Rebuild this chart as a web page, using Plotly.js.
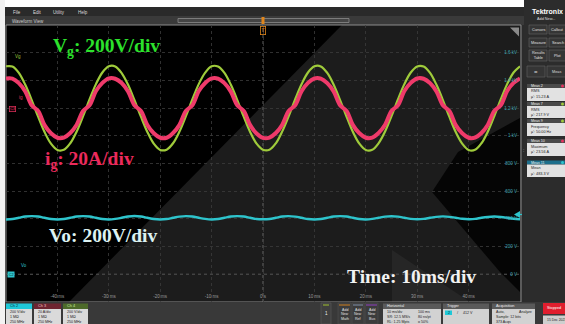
<!DOCTYPE html>
<html><head><meta charset="utf-8">
<script src="https://cdn.plot.ly/plotly-3.0.1.min.js"></script>
<style>html,body{margin:0;padding:0;background:#fff;overflow:hidden}#chart{width:565px;height:324px}</style>
</head><body><div id="chart"></div>
<script>
// ---- data ----
const time_ms = [-50,-48.75,-47.5,-46.25,-45,-43.75,-42.5,-41.25,-40,-38.75,-37.5,-36.25,-35,-33.75,-32.5,-31.25,-30,-28.75,-27.5,-26.25,-25,-23.75,-22.5,-21.25,-20,-18.75,-17.5,-16.25,-15,-13.75,-12.5,-11.25,-10,-8.75,-7.5,-6.25,-5,-3.75,-2.5,-1.25,0,1.25,2.5,3.75,5,6.25,7.5,8.75,10,11.25,12.5,13.75,15,16.25,17.5,18.75,20,21.25,22.5,23.75,25,26.25,27.5,28.75,30,31.25,32.5,33.75,35,36.25,37.5,38.75,40,41.25,42.5,43.75,45,46.25,47.5,48.75,50];
const vg_volts = [302,300,254,168,58,-62,-173,-257,-302,-301,-254,-169,-58,62,173,257,
                  302,301,253,169,57,-62,-172,-257,-302,-300,-254,-169,-58,62,173,256,
                  302,300,254,168,58,-62,-173,-257,-301,-301,-254,-168,-58,62,172,257,
                  302,301,254,169,58,-61,-173,-257,-302,-301,-253,-169,-58,62,173,257,
                  301,300,254,168,58,-62,-173,-256,-302,-301,-254,-169,-57,62,173,257,302];
const ig_amps = [21.4,21.3,18.0,12.0,2.0,-2.0,-12.3,-18.2,-21.4,-21.3,-18.0,-12.0,-2.0,2.0,12.3,18.2,
                 21.5,21.2,18.1,12.0,2.0,-2.0,-12.2,-18.2,-21.4,-21.4,-18.0,-12.1,-2.0,2.0,12.3,18.1,
                 21.4,21.3,18.0,11.9,2.0,-2.0,-12.3,-18.3,-21.5,-21.3,-18.0,-12.0,-2.0,2.0,12.2,18.2,
                 21.4,21.3,18.0,12.0,2.0,-2.0,-12.3,-18.2,-21.4,-21.3,-17.9,-12.0,-2.0,2.0,12.3,18.2,
                 21.4,21.2,18.0,12.0,2.0,-2.0,-12.3,-18.2,-21.4,-21.3,-18.0,-12.0,-2.0,2.0,12.3,18.2,21.4];
const vo_volts = [396,399,408,417,420,417,408,399, 396,399,408,417,420,417,408,399,
                  396,400,408,417,421,417,408,399, 396,399,408,416,420,417,408,400,
                  396,399,408,417,420,417,408,399, 397,399,408,417,420,416,408,399,
                  396,399,408,417,420,417,408,399, 396,400,408,416,419,416,408,400,
                  397,400,408,415,418,415,408,401, 398,400,408,414,417,414,408,401, 398];
const time_ticks = [-40,-30,-20,-10,0,10,20,30,40];
const time_tick_labels = ['-40 ms','-30 ms','-20 ms','-10 ms','0 s','10 ms','20 ms','30 ms','40 ms'];
const volt_ticks = [0,200,400,600,800,1000,1200,1400,1600];
const volt_tick_labels = ['0 V','200 V','400 V','600 V','800 V','1 kV','1.2 kV','1.4 kV','1.6 kV'];
const meas_names = ['Meas 2','Meas 7','Meas 9','Meas 10','Meas 11'];
const meas_types = ['RMS','RMS','Frequency','Maximum','Mean'];
const meas_values = ["\u03bc': 15.23 A","\u03bc': 217.9 V","\u03bc': 50.00 Hz","\u03bc': 23.56 A","\u03bc': 483.3 V"];
const channel_names = ['Ch 2','Ch 3','Ch 4'];
const channel_scales = ['200 V/div','20 A/div','200 V/div'];

// ---- pixel helpers (layout only) ----
const L=6, R=520, T=25, B=302;
const X = p => (p-L)/(R-L);
const Y = p => (B-p)/(B-T);
const shapes = [];
const ann = [];
function rect(x0,y0,x1,y1,fill,line,lw){
  shapes.push({type:'rect',xref:'paper',yref:'paper',layer:'below',x0:X(x0),x1:X(x1),y0:Y(y1),y1:Y(y0),
    fillcolor:fill||'rgba(0,0,0,0)',line:{color:line||'rgba(0,0,0,0)',width:line?(lw||0.8):0}});
}
function poly(pts,fill,layer){
  let d='M '+pts.map(p=>X(p[0]).toFixed(5)+' '+Y(p[1]).toFixed(5)).join(' L ')+' Z';
  shapes.push({type:'path',xref:'paper',yref:'paper',layer:layer||'below',path:d,fillcolor:fill,line:{width:0}});
}
function hline(x0,x1,y,color,w,dash){
  shapes.push({type:'line',xref:'paper',yref:'paper',layer:'below',x0:X(x0),x1:X(x1),y0:Y(y),y1:Y(y),line:{color:color,width:w||1,dash:dash||'solid'}});
}
function txt(x,y,t,size,color,anchor,extra){
  ann.push(Object.assign({xref:'paper',yref:'paper',x:X(x),y:Y(y),text:t,showarrow:false,
    xanchor:anchor||'left',yanchor:'middle',font:{size:size,color:color,family:'Liberation Sans, Arial, sans-serif'}},extra||{}));
}

// window chrome
rect(0,0,565,324,'#2b2b2b');
rect(0,0,524,7,'#ffffff');
rect(0,0,5,324,'#f2f2f2');
rect(5,7,524,16,'#2a2a2a');
rect(5,16,524,25,'#3a3a3a');
rect(178,18.5,349,22.5,'#454545','#8a8a8a',0.8);
// plot background with wallpaper diagonals
rect(6,25,520,302,'#000000');
poly([[342,25],[520,25],[520,302],[69,302]],'#1c1c1c');
poly([[458,152],[432,192],[500,272],[520,292],[520,118]],'#050505');
poly([[392,250],[470,302],[392,302]],'#262626');
rect(6,25,521,302,null,'#8c8c8c',1);
// top-right triangle icon
poly([[510,27.5],[519,27.5],[519,36.5]],'#8a8a8a','above');
// trigger marker
rect(261.5,17,264.5,24,'#e0861c');
// right panel
rect(524,0,565,302,'#2c2c2c');
rect(5,302,565,324,'#393939');

// menu text
txt(11,12,'File',4.5,'#dddddd');
txt(31,12,'Edit',4.5,'#dddddd');
txt(51,12,'Utility',4.5,'#dddddd');
txt(76,12,'Help',4.5,'#dddddd');
txt(10,21,'Waveform View',4.5,'#cfcfcf');

// Tektronix panel
txt(530,11.5,'<b>Tektronix</b>',7,'#ffffff');
txt(546,19.5,'Add New...',3.8,'#dddddd','center');
const btns=[['Cursors',529,547,25,34],['Callout',549,566,25,34],['Measure',529,547,38,47],['Search',549,566,38,47],['Results<br>Table',529,547,50,61],['Plot',549,566,50,61]];
btns.forEach(b=>{rect(b[1],b[3],b[2],b[4],'#353535','#5c5c5c',0.7);txt((b[1]+b[2])/2,(b[3]+b[4])/2,b[0],3.8,'#e0e0e0','center');});
rect(527,66,545,77,'#353535','#5c5c5c',0.7);
rect(547,66,566,77,'#353535','#5c5c5c',0.7);
txt(536,71.5,'=',6,'#dddddd','center');
txt(556,71.5,'Meas',3.8,'#dddddd','center');
const mh=[[84,88,101],[102,106,118],[119,123,136],[139,143,156],[160.5,164.5,177]];
const mdot=['#e8325f','#9fcb3b','#9fcb3b','#e8325f','#2ec4cc'];
meas_names.forEach((n,i)=>{
  const h=mh[i];
  rect(527,h[0],566,h[1],i===4?'#1d6f8c':'#4a4a4a');
  rect(527,h[1],566,h[2],'#e2e2e2');
  txt(529,(h[0]+h[1])/2,n,3.6,'#f0f0f0');
  shapes.push({type:'circle',xref:'paper',yref:'paper',layer:'below',x0:X(561),x1:X(564),y0:Y(h[1]-0.5),y1:Y(h[0]+0.5),fillcolor:mdot[i],line:{width:0}});
  txt(529,h[1]+3.5,meas_types[i],3.8,'#222222');
  txt(529,h[1]+9,meas_values[i],3.8,'#222222');
});
txt(523.5,150,':',5,'#bbbbbb','center');

// bottom channel boxes
const chx=[[6,32],[34,61],[63,88]];
const chHead=['#1ec8d8','#6e2430','#4d6a2a'];
const chHeadTxt=['#0b2f33','#f0c0c8','#c8e8a0'];
channel_names.forEach((c,i)=>{
  rect(chx[i][0],303.5,chx[i][1],309,chHead[i]);
  rect(chx[i][0],309,chx[i][1],324,'#dadada');
  txt(chx[i][0]+2,306.3,c,3.8,chHeadTxt[i]);
  txt(chx[i][0]+2,312,channel_scales[i],3.6,'#222');
  txt(chx[i][0]+2,316.8,'1 M\u03a9',3.6,'#222');
  txt(chx[i][0]+2,321.5,'250 MHz',3.6,'#222');
});
rect(321,303,331,324,'#3f3f3f','#5a5a5a',0.6);
hline(323,329,305,'#a0c030',1);
txt(326,313,'1',4.5,'#eeeeee','center');
const addn=[['Math',338,351,'#d08020'],['Ref',352,364,'#8090a8'],['Bus',365,378,'#9040c0']];
addn.forEach(a=>{
  rect(a[1],303,a[2],324,'#3c3c3c','#555',0.5);
  hline(a[1]+1,a[2]-1,305,a[3],1);
  txt((a[1]+a[2])/2,309.5,'Add',3.6,'#e0e0e0','center');
  txt((a[1]+a[2])/2,314,'New',3.6,'#e0e0e0','center');
  txt((a[1]+a[2])/2,318.5,a[0],3.6,'#e0e0e0','center');
});
rect(383,303.5,441,309,'#5a5a5a'); rect(383,309,441,324,'#d2d2d2');
txt(385,306.3,'Horizontal',3.8,'#eeeeee');
txt(385,312,'10 ms/div',3.6,'#222'); txt(416,312,'100 ms',3.6,'#222');
txt(385,316.8,'SR: 12.5 MS/s',3.6,'#222'); txt(416,316.8,'80 ns/pt',3.6,'#222');
txt(385,321.5,'RL: 1.25 Mpts',3.6,'#222'); txt(416,321.5,'o 50%',3.6,'#222');
rect(443,303.5,489,309,'#5a5a5a'); rect(443,309,489,324,'#d2d2d2');
txt(445,306.3,'Trigger',3.8,'#eeeeee');
rect(445,310.5,452,315,'#1ec8d8'); txt(448.5,312.8,'2',3.6,'#0b2f33','center');
txt(455,312.8,'/',4,'#333'); txt(461,312.8,'412 V',3.6,'#222');
rect(492,303.5,535,309,'#5a5a5a'); rect(492,309,535,324,'#d2d2d2');
txt(494,306.3,'Acquisition',3.8,'#eeeeee');
txt(494,312,'Auto,',3.6,'#222'); txt(517,312,'Analyze',3.6,'#222');
txt(494,316.8,'Sample: 12 bits',3.6,'#222');
txt(494,321.5,'373 Acqs',3.6,'#222');
rect(543,303,566,314,'#e01e2e');
txt(554,308.5,'Stopped',3.8,'#ffffff','center');
rect(543,315.5,566,324,'#cfcfcf');
txt(545,319.5,'15 Dec 2021',3.4,'#222');

// cursor lines
shapes.push({type:'line',xref:'x',yref:'paper',layer:'below',x0:0,x1:0,y0:0,y1:1,line:{color:'#7a7a7a',width:0.8,dash:'dot'}});
shapes.push({type:'line',xref:'paper',yref:'y',layer:'below',x0:0,x1:1,y0:0,y1:0,line:{color:'#8a8a8a',width:0.8,dash:'dot'}});
// right-edge Vo arrow
poly([[514,214.5],[520,211],[520,218]],'#2ec4cc','above');
hline(519,522,214.5,'#2ec4cc',1.2);

// channel markers / labels
txt(12,109,'C3',3.8,'#e8325f','center',{bordercolor:'#e8325f',borderwidth:0.7,borderpad:0.5,bgcolor:'#1a0008'});
txt(11,274.5,'C2',3.8,'#06282c','center',{bgcolor:'#2ec4cc',borderpad:0.7});
txt(13,57,'Vg',4.5,'#9fcb3b');
txt(17,97,'ig',4.5,'#e8325f');
txt(19,265,'Vo',4.5,'#2ec4cc');
txt(263,30,'T',5,'#e0861c','center',{bordercolor:'#e0861c',borderwidth:0.8,borderpad:0.6});

// big overlay labels
const big = {family:'Liberation Serif, Times New Roman, serif',size:19.5};
ann.push({xref:'paper',yref:'paper',x:X(106),y:Y(47),text:'<b>V<sub>g</sub>: 200V/div</b>',showarrow:false,xanchor:'center',yanchor:'middle',font:Object.assign({color:'#2ce22c'},big)});
ann.push({xref:'paper',yref:'paper',x:X(89),y:Y(160),text:'<b>i<sub>g</sub>: 20A/div</b>',showarrow:false,xanchor:'center',yanchor:'middle',font:Object.assign({color:'#ec2a5c'},big)});
ann.push({xref:'paper',yref:'paper',x:X(103),y:Y(236),text:'<b>Vo: 200V/div</b>',showarrow:false,xanchor:'center',yanchor:'middle',font:Object.assign({color:'#dcf2f2'},big)});
ann.push({xref:'paper',yref:'paper',x:X(411),y:Y(276),text:'<b>Time: 10ms/div</b>',showarrow:false,xanchor:'center',yanchor:'middle',font:Object.assign({color:'#f2f2f2'},big)});

const traces = [
  {x:time_ms,y:vo_volts,mode:'lines',line:{color:'#2ec4cc',width:2.4,shape:'spline'},yaxis:'y',hoverinfo:'skip'},
  {x:time_ms,y:vg_volts,mode:'lines',line:{color:'#9fcb3b',width:2.2,shape:'spline'},yaxis:'y2',hoverinfo:'skip'},
  {x:time_ms,y:ig_amps,mode:'lines',line:{color:'#ef3a6a',width:4,shape:'spline'},yaxis:'y3',hoverinfo:'skip'}
];
const layout = {
  width:565,height:324,margin:{l:L,r:565-R,t:T,b:324-B,pad:0},
  paper_bgcolor:'#2b2b2b',plot_bgcolor:'rgba(0,0,0,0)',showlegend:false,
  xaxis:{range:[-50,50],tickvals:time_ticks,ticktext:time_tick_labels,ticklabelposition:'inside',ticks:'',
    tickfont:{size:4.5,color:'#9a9a9a',family:'Liberation Sans, Arial, sans-serif'},showgrid:true,gridcolor:'#3c3c3c',griddash:'dot',gridwidth:0.8,
    zeroline:false,showline:false,fixedrange:true},
  yaxis:{range:[-200,1800],side:'right',tickvals:volt_ticks,ticktext:volt_tick_labels,ticklabelposition:'inside',ticks:'',
    tickfont:{size:4.5,color:'#3fa6b4',family:'Liberation Sans, Arial, sans-serif'},showgrid:true,gridcolor:'#3c3c3c',griddash:'dot',gridwidth:0.8,
    zeroline:false,showline:false,fixedrange:true},
  yaxis2:{range:[-1400,600],overlaying:'y',visible:false,fixedrange:true},
  yaxis3:{range:[-140,60],overlaying:'y',visible:false,fixedrange:true},
  shapes:shapes,annotations:ann
};
Plotly.newPlot('chart',traces,layout,{staticPlot:true,displayModeBar:false});
</script></body></html>
